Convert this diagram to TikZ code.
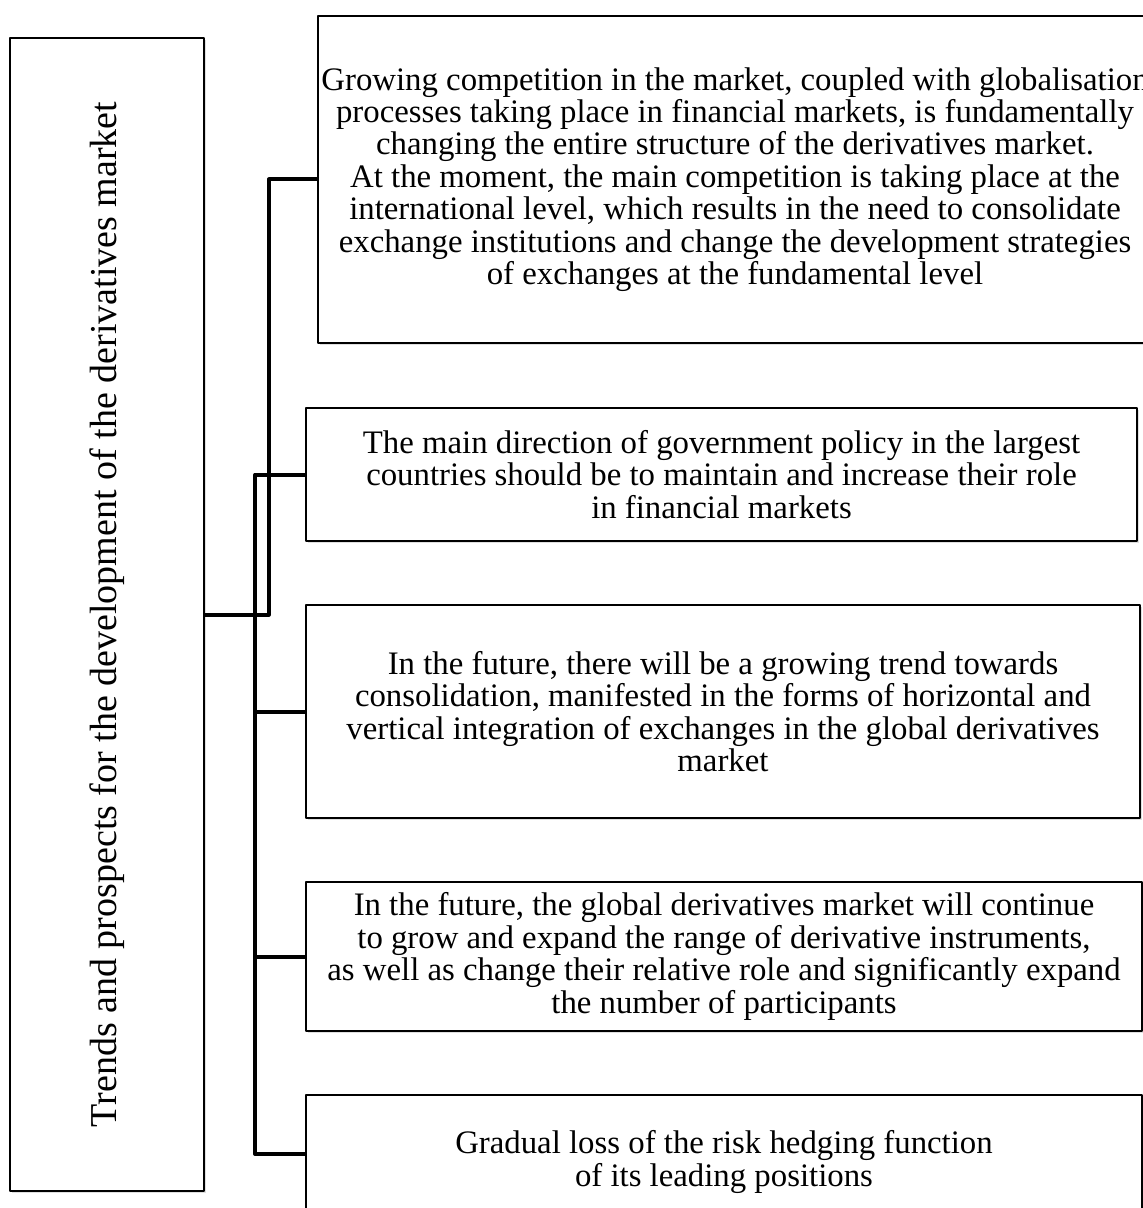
\documentclass[tikz,border=0pt]{standalone}
\usepackage{fontspec}
\setmainfont{Liberation Serif}
\usetikzlibrary{shadows}
\begin{document}
\begin{tikzpicture}[x=0.5pt, y=-0.5pt, line join=round,
	box/.style={draw, line width=0.7pt, fill=white, inner sep=0pt, align=center,
		font=\fontsize{16.4}{16.2}\selectfont,
		drop shadow={shadow xshift=0.8pt, shadow yshift=-0.8pt, opacity=0.25}},
	link/.style={line width=2pt}]
	\useasboundingbox (0,0) rectangle (1143,1208);
	\clip (0,0) rectangle (1143,1208);
	% title box on the left
	\node[box, minimum width=97pt, minimum height=576.5pt, font=\fontsize{19}{22}\selectfont] (main) at (107,614.5)
	{\rotatebox{90}{Trends and prospects for the development of the derivatives market}};
	% the five trends
	\node[box, minimum width=417pt, minimum height=163.5pt] (compet) at (735,179.5)
	{Growing competition in the market, coupled with globalisation\\
		processes taking place in financial markets, is fundamentally\\
		changing the entire structure of the derivatives market.\\
		At the moment, the main competition is taking place at the\\
		international level, which results in the need to consolidate\\
		exchange institutions and change the development strategies\\
		of exchanges at the fundamental level};
	\node[box, minimum width=415.5pt, minimum height=66.5pt] (policy) at (721.5,474.5)
	{The main direction of government policy in the largest\\
		countries should be to maintain and increase their role\\
		in financial markets};
	\node[box, minimum width=417pt, minimum height=106.5pt] (consol) at (723,711.5)
	{In the future, there will be a growing trend towards\\
		consolidation, manifested in the forms of horizontal and\\
		vertical integration of exchanges in the global derivatives\\
		market};
	\node[box, minimum width=418pt, minimum height=74.5pt] (growth) at (724,956.5)
	{In the future, the global derivatives market will continue\\
		to grow and expand the range of derivative instruments,\\
		as well as change their relative role and significantly expand\\
		the number of participants};
	\node[box, minimum width=418pt, minimum height=67pt] (hedge) at (724,1162)
	{Gradual loss of the risk hedging function\\
		of its leading positions};
	% connectors
	\draw[link] (main.east) -- ++(64,0) |- (compet.west);
	\draw[link] (policy.west) -- ++(-50,0) |- ([yshift=4pt]hedge.west);
	\draw[link] (consol.west) -- ++(-50,0);
	\draw[link] (growth.west) -- ++(-50,0);
\end{tikzpicture}
\end{document}
